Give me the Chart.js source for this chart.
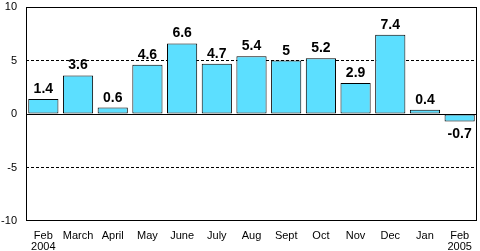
<!DOCTYPE html>
<html>
<head>
<meta charset="utf-8">
<script src="https://cdn.jsdelivr.net/npm/chart.js@4/dist/chart.umd.min.js"></script>
<style>
  html, body { margin: 0; padding: 0; background: #fff; }
  canvas { display: block; }
</style>
</head>
<body>
<canvas id="barchart" width="480" height="251"></canvas>
<script>
const months = [['Feb', '2004'], 'March', 'April', 'May', 'June', 'July', 'Aug', 'Sept', 'Oct', 'Nov', 'Dec', 'Jan', ['Feb', '2005']];
const changes = [1.4, 3.6, 0.6, 4.6, 6.6, 4.7, 5.4, 5, 5.2, 2.9, 7.4, 0.4, -0.7];
const yTicks = [-10, -5, 0, 5, 10];

// frame round the plot and the value labels over the bars
const framePlugin = {
    id: 'frame',
    afterDatasetsDraw(chart) {
        const c = chart.ctx;
        const a = chart.chartArea;
        c.save();
        c.strokeStyle = '#000';
        c.lineWidth = 1;
        c.strokeRect(Math.round(a.left) + 0.5, Math.round(a.top) + 0.5,
            Math.round(a.right - a.left) - 1, Math.round(a.bottom - a.top) - 1);

        c.fillStyle = '#000';
        c.font = 'bold 14px Arial, "Liberation Sans", sans-serif';
        c.textAlign = 'center';
        c.textBaseline = 'alphabetic';
        const meta = chart.getDatasetMeta(0);
        meta.data.forEach(function (bar, i) {
            const v = changes[i];
            if (v >= 0) {
                c.fillText(String(v), bar.x, bar.y - 6);
            } else {
                c.fillText(String(v), bar.x, bar.y + 17);
            }
        });
        c.restore();
    }
};

const ctx = document.getElementById('barchart').getContext('2d');
const barchart = new Chart(ctx, {
    type: 'bar',
    data: {
        labels: months,
        datasets: [{
            label: '',
            data: changes,
            backgroundColor: '#5CDFFF',
            borderColor: '#000',
            borderWidth: 1,
            borderSkipped: false,
            barPercentage: 0.87,
            categoryPercentage: 1
        }]
    },
    options: {
        responsive: false,
        animation: false,
        layout: {
            padding: { left: 0, right: 3, top: 7, bottom: 0 }
        },
        plugins: {
            legend: { display: false },
            tooltip: { enabled: false }
        },
        scales: {
            x: {
                grid: { display: false, drawTicks: false },
                border: { display: false },
                afterFit: function (scale) {
                    scale.height = 30;
                    scale.paddingLeft = 0;
                    scale.paddingRight = 0;
                },
                ticks: {
                    color: '#000',
                    font: { family: 'Arial, "Liberation Sans", sans-serif', size: 11, lineHeight: 1.0 },
                    padding: 9,
                    maxRotation: 0,
                    autoSkip: false
                }
            },
            y: {
                min: -10,
                max: 10,
                afterBuildTicks: function (scale) {
                    scale.ticks = yTicks.map(function (v) { return { value: v }; });
                },
                afterFit: function (scale) {
                    scale.width = 26;
                    scale.paddingTop = 0;
                    scale.paddingBottom = 0;
                },
                grid: {
                    drawTicks: false,
                    color: function (context) {
                        const v = context.tick ? context.tick.value : null;
                        if (v === 0 || v === 5 || v === -5) return '#000';
                        return 'rgba(0,0,0,0)';
                    },
                    lineWidth: 1
                },
                border: {
                    display: false,
                    dash: function (context) {
                        if (context.tick && context.tick.value !== 0) return [3, 2];
                        return [];
                    }
                },
                ticks: {
                    color: '#000',
                    font: { family: 'Arial, "Liberation Sans", sans-serif', size: 11 },
                    padding: 9
                }
            }
        }
    },
    plugins: [framePlugin]
});
</script>
</body>
</html>
